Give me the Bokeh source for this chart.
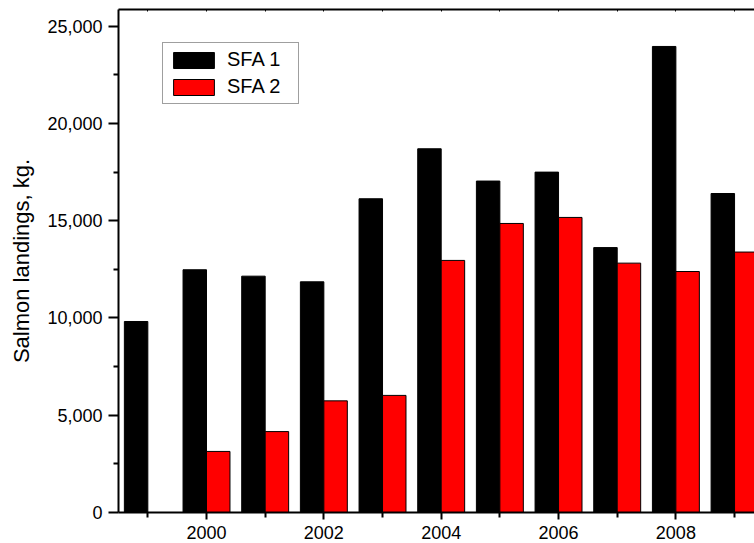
from bokeh.plotting import figure
from bokeh.models import ColumnDataSource, FixedTicker, LinearAxis, NumeralTickFormatter, Range1d, Legend, LegendItem
from bokeh.transform import dodge
from bokeh.embed import file_html
from bokeh.resources import INLINE

years = [1999, 2000, 2001, 2002, 2003, 2004, 2005, 2006, 2007, 2008, 2009]
sfa1 = [9820, 12480, 12150, 11860, 16130, 18700, 17040, 17500, 13620, 23960, 16400]
sfa2 = [0, 3140, 4160, 5740, 6020, 12960, 14860, 15170, 12820, 12390, 13390]
major_years = [2000, 2002, 2004, 2006, 2008]
minor_years = [1999, 2001, 2003, 2005, 2007, 2009]
y_major = [0, 5000, 10000, 15000, 20000, 25000]
y_minor = [2500, 7500, 12500, 17500, 22500]
series_names = ["SFA 1", "SFA 2"]

src = ColumnDataSource(dict(year=years, sfa1=sfa1, sfa2=sfa2))

FONT = "Liberation Sans"

p = figure(width=754, height=543, output_backend="svg", toolbar_location=None,
           x_range=Range1d(1998.5, 2009.34), y_range=Range1d(0, 25860),
           min_border_left=118, min_border_right=0, min_border_top=9, min_border_bottom=31,
           x_axis_location=None, y_axis_location=None)
p.outline_line_color = None
p.xgrid.visible = False
p.ygrid.visible = False
p.background_fill_color = "white"
p.border_fill_color = "white"

r1 = p.vbar(x=dodge("year", -0.2, range=p.x_range), top="sfa1", width=0.4, source=src,
            fill_color="black", line_color="black", line_width=1)
r2 = p.vbar(x=dodge("year", 0.2, range=p.x_range), top="sfa2", width=0.4, source=src,
            fill_color="#ff0000", line_color="black", line_width=1)

# bottom axis
xb = LinearAxis(ticker=FixedTicker(ticks=major_years, minor_ticks=minor_years))
xb.axis_line_width = 2
xb.major_tick_line_width = 2
xb.minor_tick_line_width = 2
xb.major_tick_out = 7
xb.major_tick_in = 0
xb.minor_tick_out = 5
xb.minor_tick_in = 0
xb.major_label_standoff = 6
xb.major_label_text_font = FONT
xb.major_label_text_font_size = "18px"
xb.major_label_text_color = "black"
p.add_layout(xb, "below")

# top axis (frame line with small inward ticks)
xt = LinearAxis(ticker=FixedTicker(ticks=major_years, minor_ticks=minor_years))
xt.axis_line_width = 2
xt.major_tick_line_width = 1
xt.minor_tick_line_width = 1
xt.major_tick_out = 0
xt.major_tick_in = 2
xt.minor_tick_out = 0
xt.minor_tick_in = 2
xt.major_label_text_color = None
xt.major_label_text_font_size = "0px"
xt.major_label_standoff = 0
p.add_layout(xt, "above")

# left axis
yl = LinearAxis(ticker=FixedTicker(ticks=y_major, minor_ticks=y_minor),
                formatter=NumeralTickFormatter(format="0,0"))
yl.axis_label = "Salmon landings, kg."
yl.axis_label_text_font = FONT
yl.axis_label_text_font_size = "22px"
yl.axis_label_text_font_style = "normal"
yl.axis_label_text_color = "black"
yl.axis_label_standoff = 10
yl.axis_line_width = 2
yl.major_tick_line_width = 2
yl.minor_tick_line_width = 2
yl.major_tick_out = 10
yl.major_tick_in = 0
yl.minor_tick_out = 5
yl.minor_tick_in = 0
yl.major_label_standoff = 6
yl.major_label_text_font = FONT
yl.major_label_text_font_size = "18px"
yl.major_label_text_color = "black"
p.add_layout(yl, "left")

legend = Legend(items=[LegendItem(label=series_names[0], renderers=[r1]),
                       LegendItem(label=series_names[1], renderers=[r2])],
                location=(44, 408))
legend.label_text_font = FONT
legend.label_text_font_size = "20px"
legend.label_text_color = "black"
legend.glyph_width = 51
legend.glyph_height = 20
legend.label_standoff = 8
legend.spacing = 4
legend.padding = 5
legend.margin = 0
legend.label_width = 66
legend.border_line_color = "#404040"
legend.border_line_width = 1
legend.background_fill_color = "white"
legend.background_fill_alpha = 1
p.add_layout(legend, "center")

open("out.html", "w").write(file_html(p, INLINE))
